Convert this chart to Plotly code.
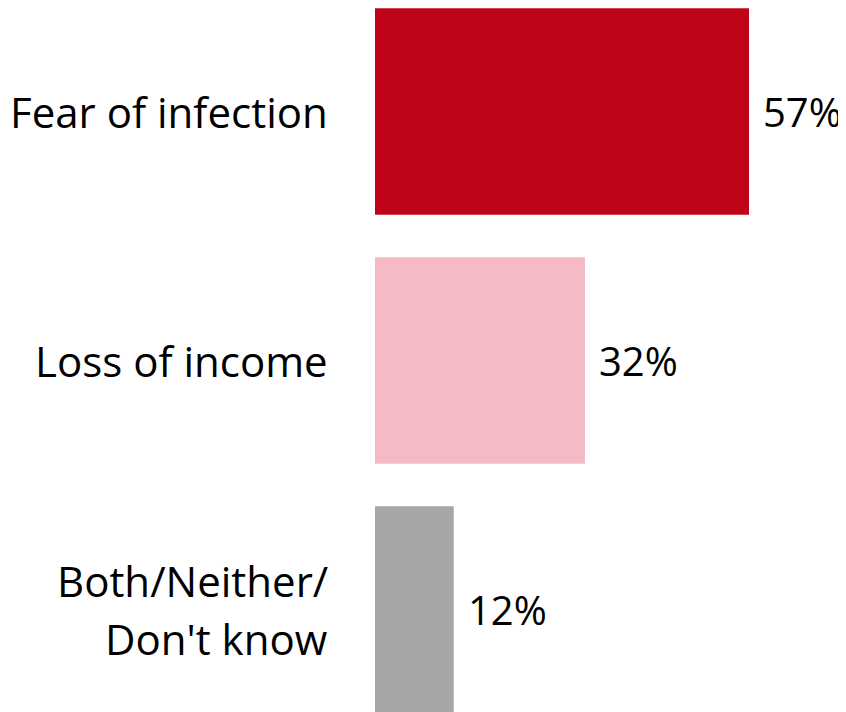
import plotly.graph_objects as go

categories = ["Fear of infection", "Loss of income", "Both/Neither/<br>Don't know"]
values = [57, 32, 12]
colors = ["#C00418", "#F4BBC5", "#A6A6A6"]

FONT = "Open Sans"
LINE_H = 58  # line spacing of wrapped labels, px

fig = go.Figure()

fig.add_trace(go.Bar(
    x=values,
    y=[0, 1, 2],
    orientation="h",
    width=0.83,
    marker=dict(color=colors, line=dict(width=0)),
    hoverinfo="skip",
    showlegend=False
))

# category labels on the left, value labels right of the bars
for i, (cat, v) in enumerate(zip(categories, values)):
    lines = cat.split("<br>")
    n = len(lines)
    for j, line in enumerate(lines):
        fig.add_annotation(
            x=0, y=i, xref="x", yref="y",
            text=line, showarrow=False,
            xanchor="right", align="right",
            xshift=-45,
            yshift=((n - 1) / 2 - j) * LINE_H,
            font=dict(family=FONT, size=42, color="black")
        )
    fig.add_annotation(
        x=v, y=i, xref="x", yref="y",
        text=f"{v}%", showarrow=False,
        xanchor="left", xshift=12,
        font=dict(family=FONT, size=40, color="black")
    )

fig.update_layout(
    width=846,
    height=712,
    margin=dict(l=367, r=0, t=0, b=0),
    plot_bgcolor="white",
    paper_bgcolor="white",
    xaxis=dict(range=[0, 73.0], visible=False),
    yaxis=dict(range=[2.444, -0.4157], visible=False),
)

fig.write_html("out.html")
